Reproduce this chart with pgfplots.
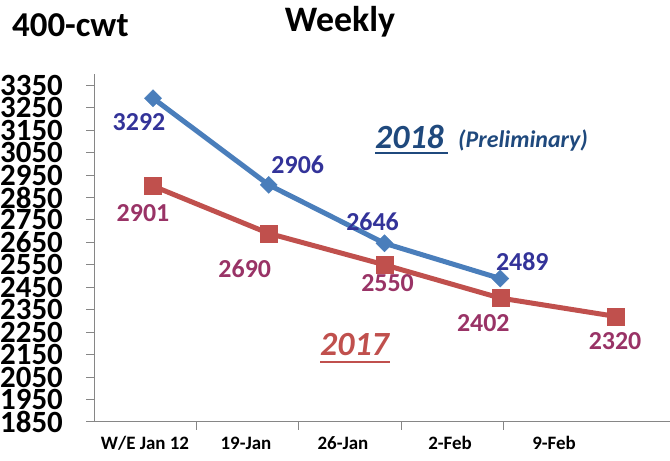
\documentclass[border=0pt]{standalone}
\usepackage{pgfplots}
\pgfplotsset{compat=1.18}
\usepackage{pgfplotstable}
\usepackage{fontspec}
\setmainfont{Carlito}
\definecolor{lineblue}{HTML}{4A7EBB}
\definecolor{linered}{HTML}{C0504D}
\definecolor{lblblue}{HTML}{333399}
\definecolor{lblred}{HTML}{993366}
\definecolor{txtblue}{HTML}{1F497D}
\definecolor{axgray}{HTML}{868686}

\pgfplotstableread{
x y dx dy
0 3292 -14 -23.5
1 2906 29 20
2 2646 -12 22
3 2489 22 17
}\datanew
\pgfplotstableread{
x y dx dy
0 2901 -10 -27
1 2690 -24 -35
2 2550 3 -18
3 2402 -17 -25
4 2320 -1 -25
}\dataold

\begin{document}
\begin{tikzpicture}[x=1bp,y=1bp]
\useasboundingbox (0,0) rectangle (670,461);
\begin{axis}[
 at={(94bp,39bp)}, anchor=south west,
 scale only axis, width=576bp, height=348bp,
 xmin=-0.5097, xmax=4.4665, ymin=1850, ymax=3400,
 axis lines=left, axis line style={-, draw=axgray, line width=1bp},
 tick style={draw=axgray, line width=1bp},
 tick align=outside, major tick length=8bp,
 ytick={1850,1950,...,3350},
 xtick={0.376,1.261,2.147,3.032}, xticklabels={},
 extra x ticks={-0.069,0.803,1.641,2.566,3.465},
 extra x tick labels={W/E Jan 12,19-Jan,26-Jan,2-Feb,9-Feb},
 extra x tick style={major tick length=0pt, tick label style={font=\fontsize{19}{19}\selectfont\bfseries, anchor=base, inner sep=0pt, yshift=-28bp}},
 yticklabel style={font=\fontsize{31}{31}\selectfont\bfseries, anchor=east, inner sep=0pt, xshift=-23bp},
 /pgf/number format/assume math mode=true,
 /pgf/number format/1000 sep={},
 scaled y ticks=false,
 clip=false,
]
\addplot[lineblue, line width=5bp, mark=square*, mark size=6bp,
  mark options={solid, rotate=45, fill=lineblue, draw=lineblue, line width=0.5bp},
  nodes near coords,
  visualization depends on={\thisrow{dx}\as\dx},
  visualization depends on={\thisrow{dy}\as\dy},
  every node near coord/.append style={anchor=center, inner sep=0pt, xshift=\dx bp, yshift=\dy bp, text=lblblue, font=\fontsize{26}{26}\selectfont\bfseries}]
  table[x=x, y=y, meta=y] {\datanew};
\addplot[linered, line width=5bp, mark=square*, mark size=8.5bp,
  mark options={solid, fill=linered, draw=linered, line width=0.5bp},
  nodes near coords,
  visualization depends on={\thisrow{dx}\as\dx},
  visualization depends on={\thisrow{dy}\as\dy},
  every node near coord/.append style={anchor=center, inner sep=0pt, xshift=\dx bp, yshift=\dy bp, text=lblred, font=\fontsize{26}{26}\selectfont\bfseries}]
  table[x=x, y=y, meta=y] {\dataold};
\end{axis}
\node[anchor=base west, inner sep=0pt, font=\fontsize{35}{35}\selectfont\bfseries] at (12,424) {400-cwt};
\node[anchor=base, inner sep=0pt, font=\fontsize{36}{36}\selectfont\bfseries] at (340,429) {Weekly};
\node[anchor=base west, inner sep=0pt, text=txtblue, font=\fontsize{34}{34}\selectfont\bfseries\itshape] at (375,312) {2018};
\node[anchor=base west, inner sep=0pt, text=txtblue, font=\fontsize{24}{24}\selectfont\bfseries\itshape] at (458,313) {(Preliminary)};
\draw[txtblue, line width=2bp] (375,308) -- (448,308);
\node[anchor=base west, inner sep=0pt, text=linered, font=\fontsize{34}{34}\selectfont\bfseries\itshape] at (320,105) {2017};
\draw[linered, line width=2bp] (320,99) -- (390,99);
\end{tikzpicture}
\end{document}
